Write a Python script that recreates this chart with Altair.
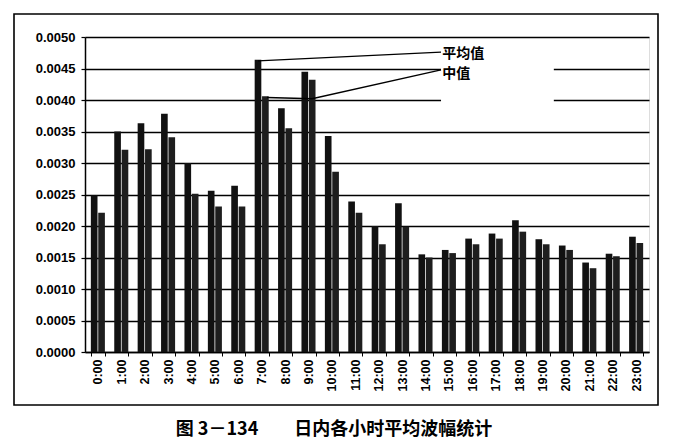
import altair as alt
import pandas as pd

hours = ["0:00", "1:00", "2:00", "3:00", "4:00", "5:00", "6:00", "7:00",
         "8:00", "9:00", "10:00", "11:00", "12:00", "13:00", "14:00", "15:00",
         "16:00", "17:00", "18:00", "19:00", "20:00", "21:00", "22:00", "23:00"]
mean_vals = [0.00249, 0.00350, 0.00363, 0.00378, 0.00300, 0.00256, 0.00264, 0.00464,
             0.00387, 0.00445, 0.00343, 0.00239, 0.00200, 0.00236, 0.00155, 0.00162,
             0.00180, 0.00188, 0.00209, 0.00179, 0.00169, 0.00142, 0.00156, 0.00183]
median_vals = [0.00221, 0.00321, 0.00322, 0.00341, 0.00251, 0.00231, 0.00231, 0.00406,
               0.00355, 0.00432, 0.00286, 0.00221, 0.00171, 0.00199, 0.00150, 0.00157,
               0.00171, 0.00180, 0.00191, 0.00171, 0.00162, 0.00133, 0.00152, 0.00173]
series_names = ["平均值", "中值"]
y_ticks = [0.0, 0.0005, 0.001, 0.0015, 0.002, 0.0025, 0.003, 0.0035, 0.004, 0.0045, 0.005]
caption = "图 3－134　　日内各小时平均波幅统计"

# annotation (leader lines and labels), in hour units along the category axis
lead_name = ["平均值", "平均值", "中值", "中值", "中值"]
lead_order = [0, 1, 0, 1, 2]
lead_u = [7.36, 15.15, 7.74, 9.66, 15.15]
lead_v = [0.00462, 0.00476, 0.00404, 0.00402, 0.00448]
label_u = [15.2, 15.2]
label_v = [0.00473, 0.00442]
box_u = [15.15, 19.95]
box_v = [0.0037, 0.0049]

rows = []
for h, m, d in zip(hours, mean_vals, median_vals):
    rows.append({"hour": h, "series": series_names[0], "value": m})
    rows.append({"hour": h, "series": series_names[1], "value": d})
bars_df = pd.DataFrame(rows)

W, H = 564, 315
BOLD = "Liberation Sans"
CJK = "Noto Sans CJK SC"

yscale = alt.Scale(domain=[0, 0.005], nice=False)


def yaxis():
    return alt.Axis(values=y_ticks, format=".4f", title=None,
                    labelFont=BOLD, labelFontWeight="bold", labelFontSize=13,
                    labelColor="black", labelPadding=6,
                    domainColor="black", domainWidth=1.5,
                    tickColor="black", tickSize=4, tickWidth=1.2,
                    grid=True, gridColor="black", gridWidth=1.4, gridOpacity=1)


bars = alt.Chart(bars_df).mark_bar().encode(
    x=alt.X("hour:N", sort=hours,
            scale=alt.Scale(paddingInner=0.4, paddingOuter=0.25),
            axis=alt.Axis(title=None, labelAngle=270, labelAlign="right",
                          labelBaseline="middle", labelFont=BOLD,
                          labelFontWeight="bold", labelFontSize=12.5,
                          labelColor="black", labelPadding=3,
                          domainColor="black", domainWidth=1.5,
                          tickColor="black", tickSize=4, tickBand="extent",
                          grid=False)),
    xOffset=alt.XOffset("series:N", sort=series_names,
                        scale=alt.Scale(paddingInner=0.1)),
    y=alt.Y("value:Q", scale=yscale, axis=yaxis()),
    color=alt.Color("series:N", sort=series_names,
                    scale=alt.Scale(domain=series_names, range=["#111111", "#1e1e1e"]),
                    legend=None),
)

ux = alt.Scale(domain=[0, 24], nice=False, zero=False)

box_df = pd.DataFrame({"u0": [box_u[0]], "u1": [box_u[1]],
                       "v0": [box_v[0]], "v1": [box_v[1]]})
box = alt.Chart(box_df).mark_rect(color="white").encode(
    x=alt.X("u0:Q", scale=ux, axis=None), x2="u1:Q",
    y=alt.Y("v0:Q", scale=yscale, axis=yaxis()), y2="v1:Q")

lead_df = pd.DataFrame({"name": lead_name, "k": lead_order, "u": lead_u, "v": lead_v})
leads = alt.Chart(lead_df).mark_line(color="black", strokeWidth=1.3).encode(
    x=alt.X("u:Q", scale=ux, axis=None),
    y=alt.Y("v:Q", scale=yscale, axis=yaxis()),
    detail="name:N", order="k:O")

lab_df = pd.DataFrame({"label": series_names, "u": label_u, "v": label_v})
labels = alt.Chart(lab_df).mark_text(align="left", baseline="middle", font=CJK,
                                     fontSize=14, fontWeight="bold", color="black").encode(
    x=alt.X("u:Q", scale=ux, axis=None),
    y=alt.Y("v:Q", scale=yscale, axis=yaxis()),
    text="label:N")

frame = alt.Chart(pd.DataFrame({"a": [0]})).mark_rect(
    filled=False, stroke="black", strokeWidth=1.6).encode(
    x=alt.value(-71), x2=alt.value(573), y=alt.value(-23), y2=alt.value(368))

annot = alt.layer(box, leads, labels, frame)

chart = alt.layer(bars, annot).resolve_scale(x="independent").properties(
    width=W, height=H,
    autosize="none",
    padding={"left": 77, "top": 29, "right": 18, "bottom": 90},
    title=alt.TitleParams(caption, orient="bottom", anchor="middle", dx=-33,
                          offset=15, font=CJK, fontSize=18, fontWeight="bold",
                          color="black"),
).configure_view(stroke="black", strokeWidth=1.5).configure(background="white")

chart.save("out.html", embed_options={"renderer": "svg", "actions": False})
